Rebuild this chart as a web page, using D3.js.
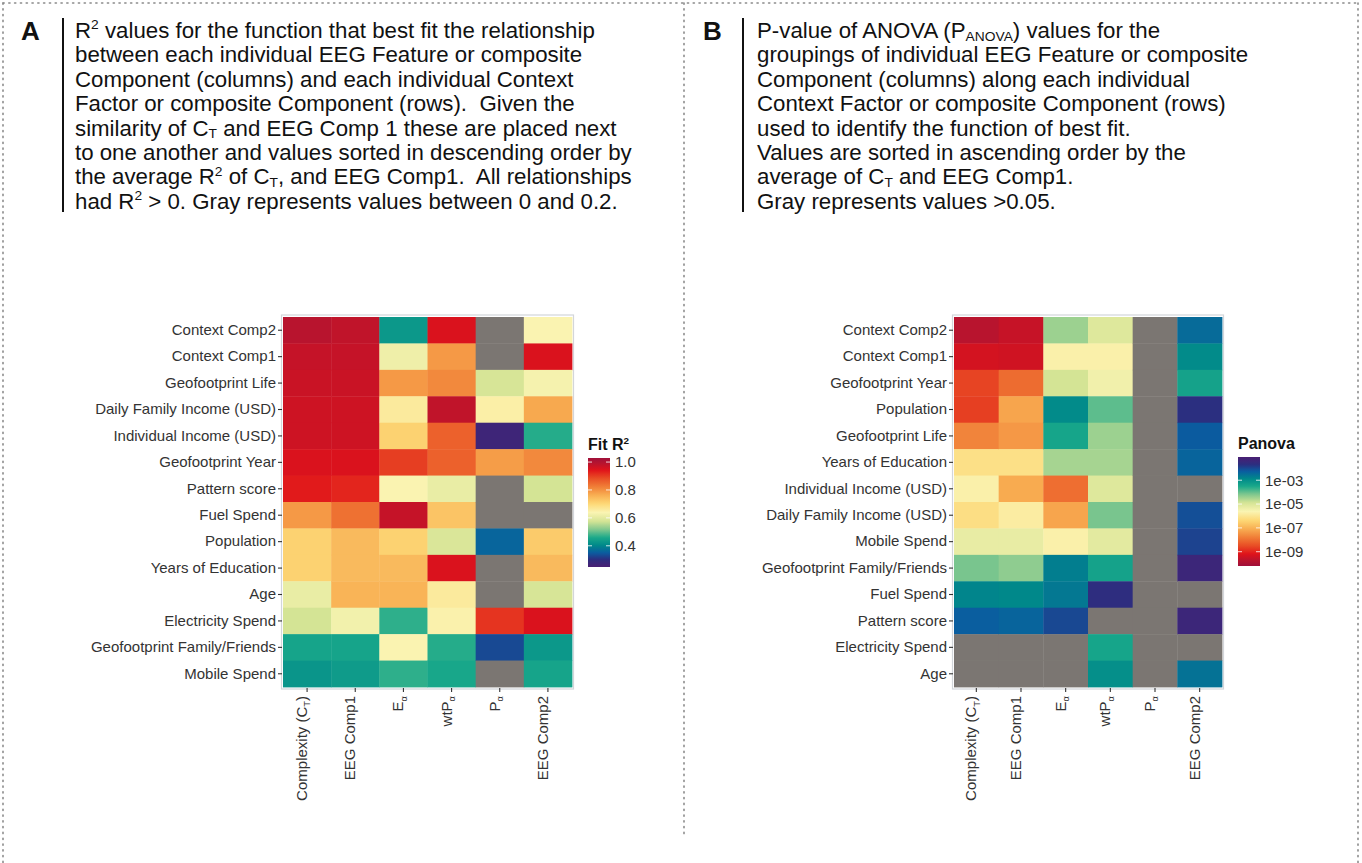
<!DOCTYPE html>
<html>
<head>
<meta charset="utf-8">
<script src="https://cdn.jsdelivr.net/npm/d3@7"></script>
<style>
  body { margin: 0; background: #fff; }
  svg text { white-space: pre; }
</style>
</head>
<body>
<svg id="fig" width="1362" height="863"></svg>
<script>
// ---------------- data ----------------
const colLabels = ["Complexity (C_{T})", "EEG Comp1", "E_{α}", "wtP_{α}", "P_{α}", "EEG Comp2"];

// Panel A: fit R² (null = below 0.2, drawn gray)
const rowsA = ["Context Comp2", "Context Comp1", "Geofootprint Life", "Daily Family Income (USD)",
  "Individual Income (USD)", "Geofootprint Year", "Pattern score", "Fuel Spend", "Population",
  "Years of Education", "Age", "Electricity Spend", "Geofootprint Family/Friends", "Mobile Spend"];
const r2ComplexityCT = [0.99, 0.975, 0.97, 0.965, 0.965, 0.95, 0.935, 0.79, 0.71, 0.71, 0.61, 0.575, 0.45, 0.425];
const r2EEGComp1     = [0.98, 0.975, 0.97, 0.965, 0.965, 0.95, 0.925, 0.84, 0.745, 0.745, 0.755, 0.625, 0.45, 0.435];
const r2Ealpha       = [0.43, 0.62, 0.79, 0.66, 0.71, 0.90, 0.64, 0.975, 0.71, 0.745, 0.755, 0.47, 0.64, 0.47];
const r2wtPalpha     = [0.95, 0.79, 0.81, 0.98, 0.86, 0.86, 0.61, 0.73, 0.585, 0.95, 0.66, 0.645, 0.465, 0.455];
const r2Palpha       = [null, null, 0.58, 0.65, 0.27, 0.785, null, null, 0.36, null, null, 0.91, 0.33, null];
const r2EEGComp2     = [0.64, 0.95, 0.63, 0.77, 0.465, 0.81, 0.575, null, 0.72, 0.745, 0.58, 0.95, 0.43, 0.45];

// Panel B: P-value of ANOVA (null = above 0.05, drawn gray)
const rowsB = ["Context Comp2", "Context Comp1", "Geofootprint Year", "Population", "Geofootprint Life",
  "Years of Education", "Individual Income (USD)", "Daily Family Income (USD)", "Mobile Spend",
  "Geofootprint Family/Friends", "Fuel Spend", "Pattern score", "Electricity Spend", "Age"];
const pComplexityCT = [1.8e-10, 4.3e-10, 2.4e-9, 2.1e-9, 2.0e-8, 7.1e-7, 1.9e-6, 6.5e-7, 5.5e-6, 7.2e-5, 1.5e-3, 5.4e-3, null, null];
const pEEGComp1     = [2.8e-10, 3.8e-10, 8.7e-9, 6.0e-8, 3.9e-8, 7.1e-7, 7.4e-8, 1.5e-6, 5.5e-6, 4.8e-5, 1.35e-3, 4.4e-3, null, null];
const pEalpha       = [3.8e-5, 1.9e-6, 1.3e-5, 1.2e-3, 3.7e-4, 3.1e-5, 9.5e-9, 6.0e-8, 1.9e-6, 1.9e-3, 2.3e-3, 1.0e-2, null, null];
const pwtPalpha     = [8.5e-6, 1.9e-6, 3.6e-6, 1.1e-4, 3.8e-5, 3.1e-5, 8.5e-6, 7.2e-5, 6.9e-6, 4.1e-4, 2.2e-2, null, 3.7e-4, 9.8e-4];
const pPalpha       = [null, null, null, null, null, null, null, null, null, null, null, null, null, null];
const pEEGComp2     = [3.5e-3, 1.2e-3, 4.1e-4, 2.0e-2, 6.0e-3, 4.4e-3, null, 8.3e-3, 1.15e-2, 4.5e-2, null, 4.5e-2, null, 2.8e-3];

const ticksA = [0.4, 0.6, 0.8, 1.0];
const tickLabelsA = ["0.4", "0.6", "0.8", "1.0"];
const ticksB = [1e-9, 1e-7, 1e-5, 1e-3];
const tickLabelsB = ["1e-09", "1e-07", "1e-05", "1e-03"];

const textA = [
  "R^{2} values for the function that best fit the relationship",
  "between each individual EEG Feature or composite",
  "Component (columns) and each individual Context",
  "Factor or composite Component (rows).  Given the",
  "similarity of C_{T} and EEG Comp 1 these are placed next",
  "to one another and values sorted in descending order by",
  "the average R^{2} of C_{T}, and EEG Comp1.  All relationships",
  "had R^{2} > 0. Gray represents values between 0 and 0.2."
];
const textB = [
  "P-value of ANOVA (P_{ANOVA}) values for the",
  "groupings of individual EEG Feature or composite",
  "Component (columns) along each individual",
  "Context Factor or composite Component (rows)",
  "used to identify the function of best fit.",
  "Values are sorted in ascending order by the",
  "average of C_{T} and EEG Comp1.",
  "Gray represents values >0.05."
];

// ---------------- palette ----------------
const paletteStops  = [0, 0.07, 0.13, 0.20, 0.27, 0.34, 0.42, 0.50, 0.58, 0.66, 0.74, 0.82, 0.89, 0.95, 1];
const paletteColors = ["#4A1F73", "#2C2E80", "#0A5CA0", "#00898A", "#1AA98A", "#7CC68E", "#D5E495",
  "#FAF4B2", "#FDD876", "#F8AE52", "#F07C36", "#E84A24", "#E0121A", "#B8142E", "#A0103A"];
const palette = d3.scaleLinear().domain(paletteStops).range(paletteColors).interpolate(d3.interpolateRgb).clamp(true);
const NA_GRAY = "#7B7672";

const svg = d3.select("#fig");

// ---------------- rich text helper (sub/superscripts) ----------------
function richText(textSel, str, size, subShift = 0.22) {
  const parts = [];
  const re = /([_^])\{([^}]*)\}/g;
  let last = 0, m;
  while ((m = re.exec(str)) !== null) {
    if (m.index > last) parts.push({ t: str.slice(last, m.index), k: "n" });
    parts.push({ t: m[2], k: m[1] === "_" ? "sub" : "sup" });
    last = re.lastIndex;
  }
  if (last < str.length) parts.push({ t: str.slice(last), k: "n" });
  let cur = 0;
  parts.forEach(p => {
    const target = p.k === "sub" ? subShift * size : p.k === "sup" ? -0.40 * size : 0;
    const ts = textSel.append("tspan").text(p.t).attr("dy", target - cur);
    if (p.k !== "n") ts.attr("font-size", (0.62 * size) + "px");
    cur = target;
  });
}

// ---------------- panel frame (dotted) ----------------
const frame = svg.append("g").attr("stroke", "#8A8A8A").attr("stroke-width", 1.6)
  .attr("stroke-dasharray", "1.2,4.6").attr("stroke-linecap", "round");
frame.append("line").attr("x1", 3).attr("x2", 1358).attr("y1", 3).attr("y2", 3);
frame.append("line").attr("x1", 3).attr("x2", 3).attr("y1", 3).attr("y2", 863);
frame.append("line").attr("x1", 1358).attr("x2", 1358).attr("y1", 3).attr("y2", 863);
frame.append("line").attr("x1", 684).attr("x2", 684).attr("y1", 3).attr("y2", 838);

// ---------------- caption blocks ----------------
const capFont = "'Liberation Sans Narrow', 'Arial Narrow', 'Liberation Sans', Arial, sans-serif";
const capSize = 21.5, capLead = 24.4;
function caption(letter, lx, barX, tx, lines) {
  svg.append("text").attr("x", lx).attr("y", 40).text(letter)
    .attr("font-family", "'Liberation Sans', Arial, sans-serif").attr("font-weight", "bold")
    .attr("font-size", "26px").attr("fill", "#111");
  svg.append("rect").attr("x", barX).attr("y", 18).attr("width", 2).attr("height", 194).attr("fill", "#111");
  const g = svg.append("g").attr("transform", `translate(${tx},0)`);
  lines.forEach((ln, i) => {
    const t = g.append("text").attr("x", 0).attr("y", 38 + i * capLead)
      .attr("font-family", capFont).attr("font-size", capSize + "px").attr("fill", "#111");
    richText(t, ln, capSize, 0.12);
  });
  return g;
}
const capA = caption("A", 21, 62, 75, textA);
const capB = caption("B", 703, 742, 757, textB);
// fit caption width to the column (first line of A spans 520px)
const w0 = capA.select("text").node().getComputedTextLength();
const sx = 520 / w0;
capA.attr("transform", `translate(75,0) scale(${sx},1)`);
capB.attr("transform", `translate(757,0) scale(${sx},1)`);

// ---------------- heatmap ----------------
const axisFont = "'Liberation Sans', Arial, sans-serif";
const axisSize = 15;

function heatmap(opts) {
  const { x0, y0, w, h, rows, cols, colorOf } = opts;
  const xS = d3.scaleBand().domain(d3.range(cols.length)).range([x0, x0 + w]);
  const yS = d3.scaleBand().domain(rows).range([y0, y0 + h]);
  const g = svg.append("g");
  // panel border
  g.append("rect").attr("x", x0 - 1.5).attr("y", y0 - 2).attr("width", w + 3).attr("height", h + 4)
    .attr("fill", "none").attr("stroke", "#D3D6DA").attr("stroke-width", 1.2);
  const cells = [];
  cols.forEach((series, ci) => series.forEach((v, ri) => cells.push({ ci, row: rows[ri], v })));
  g.selectAll("rect.cell").data(cells).join("rect").attr("class", "cell")
    .attr("x", d => xS(d.ci)).attr("y", d => yS(d.row))
    .attr("width", xS.bandwidth() + 0.4).attr("height", yS.bandwidth() + 0.4)
    .attr("fill", d => d.v == null ? NA_GRAY : colorOf(d.v));

  // y axis
  const yAxis = d3.axisLeft(yS).tickSize(4).tickPadding(2);
  const ya = g.append("g").attr("transform", `translate(${x0 - 1},0)`).call(yAxis);
  ya.select(".domain").remove();
  ya.selectAll(".tick line").attr("stroke", "#333").attr("stroke-width", 1.1);
  ya.selectAll(".tick text").attr("font-family", axisFont).attr("font-size", axisSize + "px").attr("fill", "#333");

  // x axis (rotated labels with subscripts)
  const xAxis = d3.axisBottom(xS).tickSize(4).tickFormat("");
  const xa = g.append("g").attr("transform", `translate(0,${y0 + h + 1})`).call(xAxis);
  xa.select(".domain").remove();
  xa.selectAll(".tick line").attr("stroke", "#333").attr("stroke-width", 1.1);
  xa.selectAll(".tick").each(function (d) {
    const t = d3.select(this).append("text")
      .attr("transform", "rotate(-90)").attr("x", -8).attr("y", 0).attr("dy", "0.36em")
      .attr("text-anchor", "end").attr("font-family", axisFont).attr("font-size", axisSize + "px")
      .attr("fill", "#333");
    richText(t.append("tspan"), colLabels[d], axisSize);
  });
}

// ---------------- colorbar legend ----------------
function colorbar(opts) {
  const { x, yTop, yBot, barW, title, yScale, tOf, ticks, labels, id } = opts;
  const grad = svg.append("defs").append("linearGradient").attr("id", id)
    .attr("x1", 0).attr("x2", 0).attr("y1", 0).attr("y2", 1);
  const N = 60;
  d3.range(N + 1).forEach(i => {
    const y = yTop + (yBot - yTop) * i / N;
    grad.append("stop").attr("offset", i / N).attr("stop-color", palette(tOf(yScale.invert(y))));
  });
  svg.append("text").attr("x", x).attr("y", yTop - 8).attr("font-family", axisFont)
    .attr("font-weight", "bold").attr("font-size", "16px").attr("fill", "#111")
    .call(t => richText(t, title, 16));
  svg.append("rect").attr("x", x).attr("y", yTop).attr("width", barW).attr("height", yBot - yTop)
    .attr("fill", `url(#${id})`);
  ticks.forEach((tv, i) => {
    const y = yScale(tv);
    svg.append("line").attr("x1", x).attr("x2", x + 4).attr("y1", y).attr("y2", y)
      .attr("stroke", "#fff").attr("stroke-opacity", 0.8).attr("stroke-width", 1);
    svg.append("line").attr("x1", x + barW - 4).attr("x2", x + barW).attr("y1", y).attr("y2", y)
      .attr("stroke", "#fff").attr("stroke-opacity", 0.8).attr("stroke-width", 1);
    svg.append("text").attr("x", x + barW + 5).attr("y", y).attr("dy", "0.36em")
      .attr("font-family", axisFont).attr("font-size", axisSize + "px").attr("fill", "#333").text(labels[i]);
  });
}

// Panel A
const r2Domain = [0.248, 1.029];
const tA = d3.scaleLinear().domain(r2Domain).range([0, 1]);
heatmap({
  x0: 283, y0: 317, w: 289, h: 370, rows: rowsA,
  cols: [r2ComplexityCT, r2EEGComp1, r2Ealpha, r2wtPalpha, r2Palpha, r2EEGComp2],
  colorOf: v => palette(tA(v))
});
colorbar({
  x: 588, yTop: 458, yBot: 567, barW: 22, title: "Fit R^{2}", id: "gradA",
  yScale: d3.scaleLinear().domain(r2Domain).range([567, 458]), tOf: v => tA(v),
  ticks: ticksA, labels: tickLabelsA
});

// Panel B
const pDomain = [Math.pow(10, -1.05), Math.pow(10, -10.2)];
const tB = d3.scaleLog().domain(pDomain).range([0, 1]);
heatmap({
  x0: 954, y0: 317, w: 268, h: 370, rows: rowsB,
  cols: [pComplexityCT, pEEGComp1, pEalpha, pwtPalpha, pPalpha, pEEGComp2],
  colorOf: v => palette(tB(v))
});
colorbar({
  x: 1238, yTop: 457, yBot: 566, barW: 22, title: "Panova", id: "gradB",
  yScale: d3.scaleLog().domain([pDomain[1], pDomain[0]]).range([566, 457]), tOf: v => tB(v),
  ticks: ticksB, labels: tickLabelsB
});
</script>
</body>
</html>
